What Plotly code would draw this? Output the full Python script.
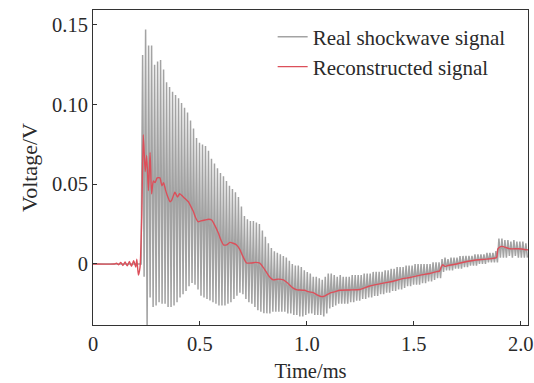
import plotly.graph_objects as go

# ---------------- data ----------------
# Real shockwave signal: flat before the shock, then a dense oscillation.
gray_pre_time = [0.0, 0.10, 0.20, 0.225]
gray_pre_volt = [0.0, 0.0, 0.0, 0.0]
gray_start = 0.232      # ms, first oscillation peak
gray_period = 0.014     # ms, oscillation period
gray_peaks = [
    0.131, 0.147, 0.137, 0.137, 0.125, 0.127, 0.128, 0.122, 0.114, 0.111,
    0.108, 0.106, 0.104, 0.101, 0.098, 0.095, 0.090, 0.085, 0.079, 0.076,
    0.075, 0.074, 0.071, 0.066, 0.063, 0.060, 0.057, 0.055, 0.052, 0.049,
    0.047, 0.045, 0.042, 0.036, 0.030, 0.028, 0.027, 0.027, 0.026, 0.025,
    0.021, 0.017, 0.013, 0.010, 0.008, 0.007, 0.006, 0.005, 0.004, 0.002,
    0.000, -0.001, -0.001, -0.002, -0.004, -0.005, -0.006, -0.008, -0.008, -0.009,
    -0.010, -0.008, -0.006, -0.006, -0.007, -0.008, -0.007, -0.008, -0.008, -0.008,
    -0.007, -0.007, -0.007, -0.007, -0.006, -0.006, -0.006, -0.005, -0.005, -0.005,
    -0.005, -0.004, -0.004, -0.003, -0.003, -0.002, -0.002, -0.002, -0.001, -0.001,
    -0.001, 0.000, 0.000, 0.000, 0.000, 0.000, 0.000, 0.001, 0.001, 0.001,
    0.003, 0.004, 0.003, 0.004, 0.004, 0.004, 0.005, 0.005, 0.005, 0.005,
    0.005, 0.006, 0.006, 0.006, 0.006, 0.007, 0.007, 0.007, 0.008, 0.016,
    0.016, 0.015, 0.015, 0.014, 0.015, 0.014, 0.014, 0.014, 0.013,
]
gray_troughs = [
    -0.008, -0.040, -0.021, -0.027, -0.026, -0.024, -0.025, -0.025, -0.027, -0.027,
    -0.026, -0.024, -0.021, -0.019, -0.017, -0.014, -0.012, -0.013, -0.016, -0.020,
    -0.021, -0.022, -0.023, -0.024, -0.025, -0.026, -0.026, -0.026, -0.025, -0.024,
    -0.022, -0.020, -0.018, -0.019, -0.022, -0.024, -0.025, -0.027, -0.029, -0.030,
    -0.031, -0.031, -0.031, -0.030, -0.030, -0.030, -0.030, -0.030, -0.031, -0.031,
    -0.032, -0.032, -0.033, -0.033, -0.032, -0.031, -0.031, -0.032, -0.032, -0.032,
    -0.033, -0.031, -0.028, -0.027, -0.026, -0.025, -0.025, -0.025, -0.025, -0.024,
    -0.024, -0.023, -0.023, -0.022, -0.022, -0.021, -0.021, -0.020, -0.020, -0.019,
    -0.019, -0.018, -0.018, -0.017, -0.017, -0.016, -0.016, -0.015, -0.014, -0.014,
    -0.013, -0.013, -0.013, -0.012, -0.012, -0.011, -0.011, -0.010, -0.009, -0.009,
    -0.005, -0.004, -0.004, -0.004, -0.003, -0.003, -0.003, -0.002, -0.002, -0.001,
    -0.001, -0.001, 0.000, 0.000, 0.000, 0.001, 0.001, 0.001, 0.001, 0.004,
    0.004, 0.004, 0.005, 0.004, 0.005, 0.004, 0.004, 0.004, 0.004,
]

# Reconstructed signal (time in ms, voltage in V)
recon_time = [
    0.0, 0.10, 0.11, 0.12, 0.13, 0.14, 0.15, 0.16, 0.17, 0.18, 0.19, 0.20, 0.205,
    0.212, 0.22, 0.228, 0.235, 0.244, 0.251, 0.259, 0.267, 0.274, 0.282, 0.29,
    0.30, 0.313, 0.322, 0.33, 0.34, 0.35, 0.36, 0.368, 0.383, 0.395, 0.405,
    0.415, 0.43, 0.446, 0.458, 0.469, 0.48, 0.492, 0.505, 0.524, 0.54, 0.555,
    0.57, 0.586, 0.598, 0.61, 0.625, 0.64, 0.655, 0.67, 0.687, 0.70, 0.718,
    0.74, 0.76, 0.78, 0.795, 0.81, 0.825, 0.843, 0.865, 0.89, 0.91, 0.936,
    0.955, 0.968, 0.99, 1.007, 1.03, 1.05, 1.069, 1.085, 1.108, 1.13, 1.155,
    1.20, 1.248, 1.29, 1.357, 1.40, 1.44, 1.482, 1.53, 1.575, 1.607, 1.62,
    1.628, 1.635, 1.645, 1.66, 1.70, 1.747, 1.79, 1.84, 1.887, 1.893, 1.91,
    1.95, 1.99, 2.034,
]
recon_volt = [
    0.0, 0.0, 0.0005, -0.0005, 0.001, -0.001, 0.0012, -0.0012, 0.0015, -0.0015,
    0.002, -0.002, 0.003, -0.007, -0.002, 0.030, 0.081, 0.058, 0.068, 0.046,
    0.070, 0.044, 0.052, 0.051, 0.054, 0.054, 0.049, 0.051, 0.046, 0.042,
    0.039, 0.040, 0.045, 0.042, 0.044, 0.043, 0.041, 0.039, 0.036, 0.033,
    0.029, 0.0265, 0.027, 0.0276, 0.028, 0.0276, 0.024, 0.0194, 0.015, 0.012,
    0.012, 0.0135, 0.013, 0.012, 0.009, 0.005, 0.0006, 0.0006, 0.001, 0.0005,
    -0.002, -0.005, -0.008, -0.010, -0.0095, -0.010, -0.012, -0.0152, -0.0163, -0.0163,
    -0.0165, -0.0174, -0.018, -0.0195, -0.0205, -0.020, -0.0183, -0.0175, -0.0165, -0.0163,
    -0.016, -0.014, -0.012, -0.011, -0.0095, -0.0085, -0.007, -0.006, -0.0048, -0.0045,
    -0.002, -0.0005, -0.0015, -0.001, 0.000, 0.0015, 0.0025, 0.003, 0.004, 0.0095,
    0.011, 0.0095, 0.0095, 0.0088,
]

series_names = ["Real shockwave signal", "Reconstructed signal"]
x_tick_values = [0, 0.5, 1.0, 1.5, 2.0]
x_tick_labels = ["0", "0.5", "1.0", "1.5", "2.0"]
y_tick_values = [0, 0.05, 0.10, 0.15]
y_tick_labels = ["0", "0.05", "0.10", "0.15"]
x_title = "Time/ms"
y_title = "Voltage/V"

# ---------------- build gray trace: peaks and troughs alternate ----------------
gray_x = list(gray_pre_time)
gray_y = list(gray_pre_volt)
for i, (pk, tr) in enumerate(zip(gray_peaks, gray_troughs)):
    gray_x.append(gray_start + gray_period * i)
    gray_y.append(pk)
    gray_x.append(gray_start + gray_period * (i + 0.5))
    gray_y.append(tr)

FONT = "Liberation Serif, Tinos, Times New Roman, DejaVu Serif, serif"
TXT = "#2a2a2a"
AX = "#333333"
FS = 20.5

fig = go.Figure()
fig.add_trace(go.Scatter(
    x=gray_x, y=gray_y, mode="lines", name=series_names[0],
    line=dict(color="#a3a3a3", width=1.5), legend="legend",
))
fig.add_trace(go.Scatter(
    x=recon_time, y=recon_volt, mode="lines", name=series_names[1],
    line=dict(color="#dc4f5a", width=1.4, shape="spline", smoothing=0.5),
    legend="legend2",
))

legend_common = dict(
    font=dict(family=FONT, size=21, color=TXT),
    bgcolor="rgba(0,0,0,0)", borderwidth=0,
    xanchor="left", yanchor="middle", x=0.413,
)
fig.update_layout(
    width=534, height=383,
    margin=dict(l=93, r=6, t=10, b=58, autoexpand=False),
    paper_bgcolor="white", plot_bgcolor="white",
    font=dict(family=FONT, size=FS, color=TXT),
    legend=dict(y=0.914, **legend_common),
    legend2=dict(y=0.819, **legend_common),
    showlegend=True,
)
fig.update_xaxes(
    range=[0, 2.034], tickvals=x_tick_values, ticktext=x_tick_labels,
    ticks="inside", ticklen=4, tickcolor=AX, showline=True, linecolor=AX,
    linewidth=1, mirror=True, showgrid=False, zeroline=False, automargin=False,
    title=dict(text=x_title, standoff=10, font=dict(family=FONT, size=FS)),
    tickfont=dict(family=FONT, size=FS),
)
fig.update_yaxes(
    range=[-0.0383, 0.1593], tickvals=y_tick_values, ticktext=y_tick_labels,
    ticks="inside", ticklen=4, tickcolor=AX, showline=True, linecolor=AX,
    linewidth=1, mirror=True, showgrid=False, zeroline=False, automargin=False,
    title=dict(text=y_title, standoff=8, font=dict(family=FONT, size=22)),
    tickfont=dict(family=FONT, size=FS),
)

fig.write_html(
    "out.html",
    config={"displayModeBar": False},
    post_script="document.body.style.margin='0';document.body.style.padding='0';",
)
